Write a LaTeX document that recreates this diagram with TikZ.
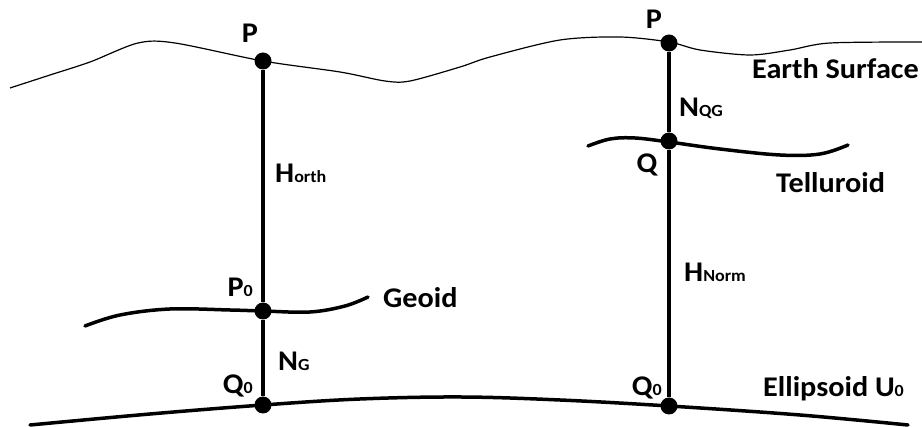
\documentclass[tikz,border=0pt]{standalone}
\usepackage{fontspec}
\setmainfont{Carlito}[FakeStretch=1.06]
\usepackage{tikz}
\usetikzlibrary{positioning}

\newcommand{\lowidx}[1]{{\fontsize{17}{17}\selectfont #1}}

\begin{document}
\begin{tikzpicture}[
  x=1pt, y=-1pt,
  dot/.style={circle, fill=black, inner sep=0pt, minimum size=17pt},
  lbl/.style={inner sep=0pt, font=\fontsize{28.5}{30}\selectfont\bfseries},
  stem/.style={line width=3.4pt},
  surf/.style={line width=3.5pt, line cap=round},
]
\useasboundingbox (0,0) rectangle (922,427);

  % Surfaces
  \draw[line width=1.2pt] plot[smooth, tension=0.5] coordinates {
    (10,88) (50,75) (90,62) (138,43) (175,43) (263,61) (340,72) (385,81)
    (410,81) (460,67) (490,57) (560,40) (620,37) (669,42) (700,50)
    (750,55) (790,50) (830,43) (922,42)};
  \draw[surf] plot[smooth, tension=0.6] coordinates {
    (85,326) (120,315) (170,309) (230,310) (263,311) (310,312) (345,306) (368,297)};
  \draw[surf] plot[smooth, tension=0.6] coordinates {
    (588,146) (610,139) (635,138) (669,142) (720,149) (780,155) (820,154) (848,145)};
  \draw[surf] plot[smooth, tension=0.6] coordinates {
    (30,425) (150,414) (263,405) (360,399) (461,397) (560,400) (669,406) (800,415) (908,425)};

  % Nodes
  \node[dot] (pl)  at (263,61)  {};
  \node[dot] (p0)  at (263,311) {};
  \node[dot] (q0l) at (263,405) {};
  \node[dot] (pr)  at (669,43)  {};
  \node[dot] (q)   at (669,141) {};
  \node[dot] (q0r) at (669,406) {};

  % Edges
  \draw[stem] (pl) -- (p0);
  \draw[stem] (p0) -- (q0l);
  \draw[stem] (pr) -- (q);
  \draw[stem] (q) -- (q0r);

  % Labels
  \node[lbl, anchor=base] (lpl) at (250,43) {P};
  \node[lbl, anchor=base west] (lhorth) at (275,183) {H\lowidx{orth}};
  \node[lbl, anchor=base east] (lp0) at (253,297) {P\lowidx{0}};
  \node[lbl, anchor=base west] (lng) at (278,371) {N\lowidx{G}};
  \node[lbl, anchor=base east] (lq0l) at (253,394) {Q\lowidx{0}};
  \node[lbl, anchor=base west] (lgeoid) at (383,308) {Geoid};
  \node[lbl, anchor=base] (lpr) at (654,29) {P};
  \node[lbl, anchor=base west] (learth) at (752,79) {Earth Surface};
  \node[lbl, anchor=base west] (lnqg) at (679,117) {N\lowidx{QG}};
  \node[lbl, anchor=base] (lq) at (647,173) {Q};
  \node[lbl, anchor=base west] (ltell) at (776,193) {Telluroid};
  \node[lbl, anchor=base west] (lhnorm) at (684,282) {H\lowidx{Norm}};
  \node[lbl, anchor=base east] (lq0r) at (662,396) {Q\lowidx{0}};
  \node[lbl, anchor=base west] (lell) at (763,397) {Ellipsoid U\lowidx{0}};

\end{tikzpicture}
\end{document}
